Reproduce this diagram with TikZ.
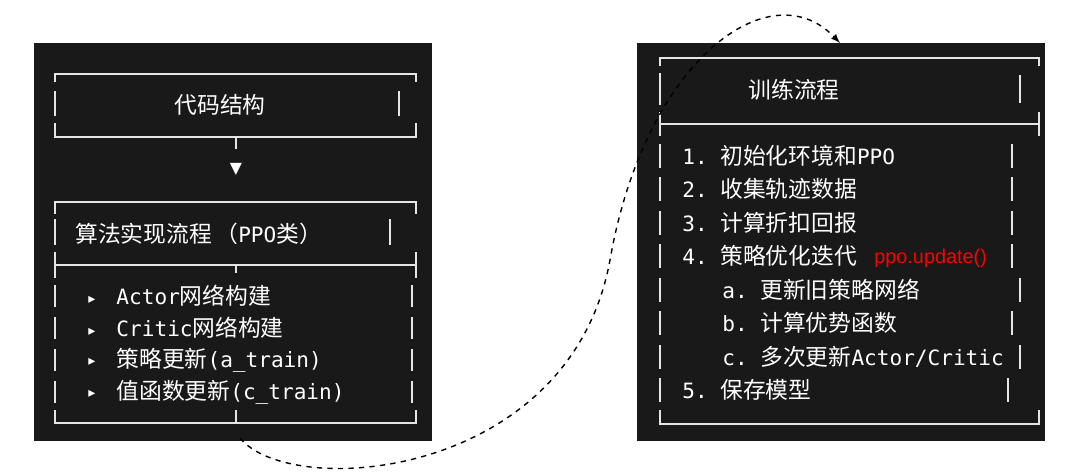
\documentclass[tikz,border=0pt]{standalone}
\usepackage{fontspec}
\setmainfont{DejaVu Sans Mono}
\newfontfamily\cjk[Scale=1.08]{Noto Sans CJK SC}
\newfontfamily\symfont{DejaVu Sans}
\newfontfamily\arialfont{Liberation Sans}
\newcommand{\zh}[1]{{\cjk #1}}
\newcommand{\bul}{\raisebox{0.15ex}{\symfont\footnotesize ▸}\quad}
\begin{document}
\begin{tikzpicture}[x=0.02cm,y=-0.02cm]
  \tikzstyle{every node}+=[inner sep=0pt, text=white, font=\fontsize{12pt}{14pt}\selectfont]
  \tikzstyle{boxline}=[draw=white!90!black, line width=0.9pt]
  \tikzstyle{item}=[anchor=west]
  \useasboundingbox (0,0) rectangle (1080,474);
  \fill [white] (0,0) rectangle (1080,474);
  % left panel
  \fill [black!90] (34,43) rectangle (432,441);
  \draw [boxline] (55,82) |- (416,74) -- (416,82);
  \draw [boxline] (55,91) -- (55,116);
  \draw [boxline] (399,91) -- (399,116);
  \draw [boxline] (55,123) |- (416,137) -- (416,123);
  \draw [boxline] (236,137) -- (236,149);
  \node (down) at (236,169) {\symfont\small ▼};
  \draw [boxline] (55,214) |- (416,202) -- (416,214);
  \draw [boxline] (55,219) -- (55,245);
  \draw [boxline] (390,219) -- (390,245);
  \draw [boxline] (55,252) -- (55,278) (416,252) -- (416,278);
  \draw [boxline] (55,265) -- (416,265) (236,265) -- (236,273);
  \foreach \y in {296,328,360,392}
    \draw [boxline] (55,\y-11) -- (55,\y+11) (412,\y-11) -- (412,\y+11);
  \draw [boxline] (55,410) |- (416,423) -- (416,410) (236,410) -- (236,423);
  \node (codetitle) at (220,105) {\zh{代码结构}};
  \node [item] (algotitle) at (75,234) {\zh{算法实现流程}\,\zh{（}PPO\zh{类）}};
  \node [item] (i1) at (88,296) {\bul Actor\zh{网络构建}};
  \node [item] (i2) at (88,328) {\bul Critic\zh{网络构建}};
  \node [item] (i3) at (88,360) {\bul\zh{策略更新}(a\_train)};
  \node [item] (i4) at (88,392) {\bul\zh{值函数更新}(c\_train)};
  % right panel
  \fill [black!90] (637,43) rectangle (1045,441);
  \draw [boxline] (660,66) |- (1039,58) -- (1039,66);
  \draw [boxline] (660,73) -- (660,105) (1020,75) -- (1020,103);
  \draw [boxline] (660,112) -- (660,136) (1039,112) -- (1039,136);
  \draw [boxline] (660,124) -- (1039,124);
  \foreach \y/\x in {156/1012,189/1012,223/1012,256/1012,290/1020,323/1012,357/1020,390/1008}
    \draw [boxline] (660,\y-12) -- (660,\y+12) (\x,\y-12) -- (\x,\y+12);
  \draw [boxline] (660,410) |- (1039,424) -- (1039,410);
  \node (traintitle) at (794,90) {\zh{训练流程}};
  \node [item] (s1) at (682,156) {1.\ \zh{初始化环境和}PPO};
  \node [item] (s2) at (682,189) {2.\ \zh{收集轨迹数据}};
  \node [item] (s3) at (682,223) {3.\ \zh{计算折扣回报}};
  \node [item] (s4) at (682,256) {4.\ \zh{策略优化迭代}};
  \node [item, text=red, font=\arialfont\fontsize{11.3pt}{13pt}\selectfont] (upd) at (874,258) {ppo.update()};
  \node [item] (sa) at (722,290) {a.\ \zh{更新旧策略网络}};
  \node [item] (sb) at (722,323) {b.\ \zh{计算优势函数}};
  \node [item] (sc) at (722,357) {c.\ \zh{多次更新}Actor/Critic};
  \node [item] (s5) at (682,390) {5.\ \zh{保存模型}};
  % link between panels
  \coordinate (from) at (240,438);
  \coordinate (to) at (840,43);
  \draw [black, dashed, line width=0.8pt, -latex] (from) .. controls (290,500) and (570,480) .. (610,260)
    .. controls (645,60) and (770,-30) .. (to);
\end{tikzpicture}
\end{document}
